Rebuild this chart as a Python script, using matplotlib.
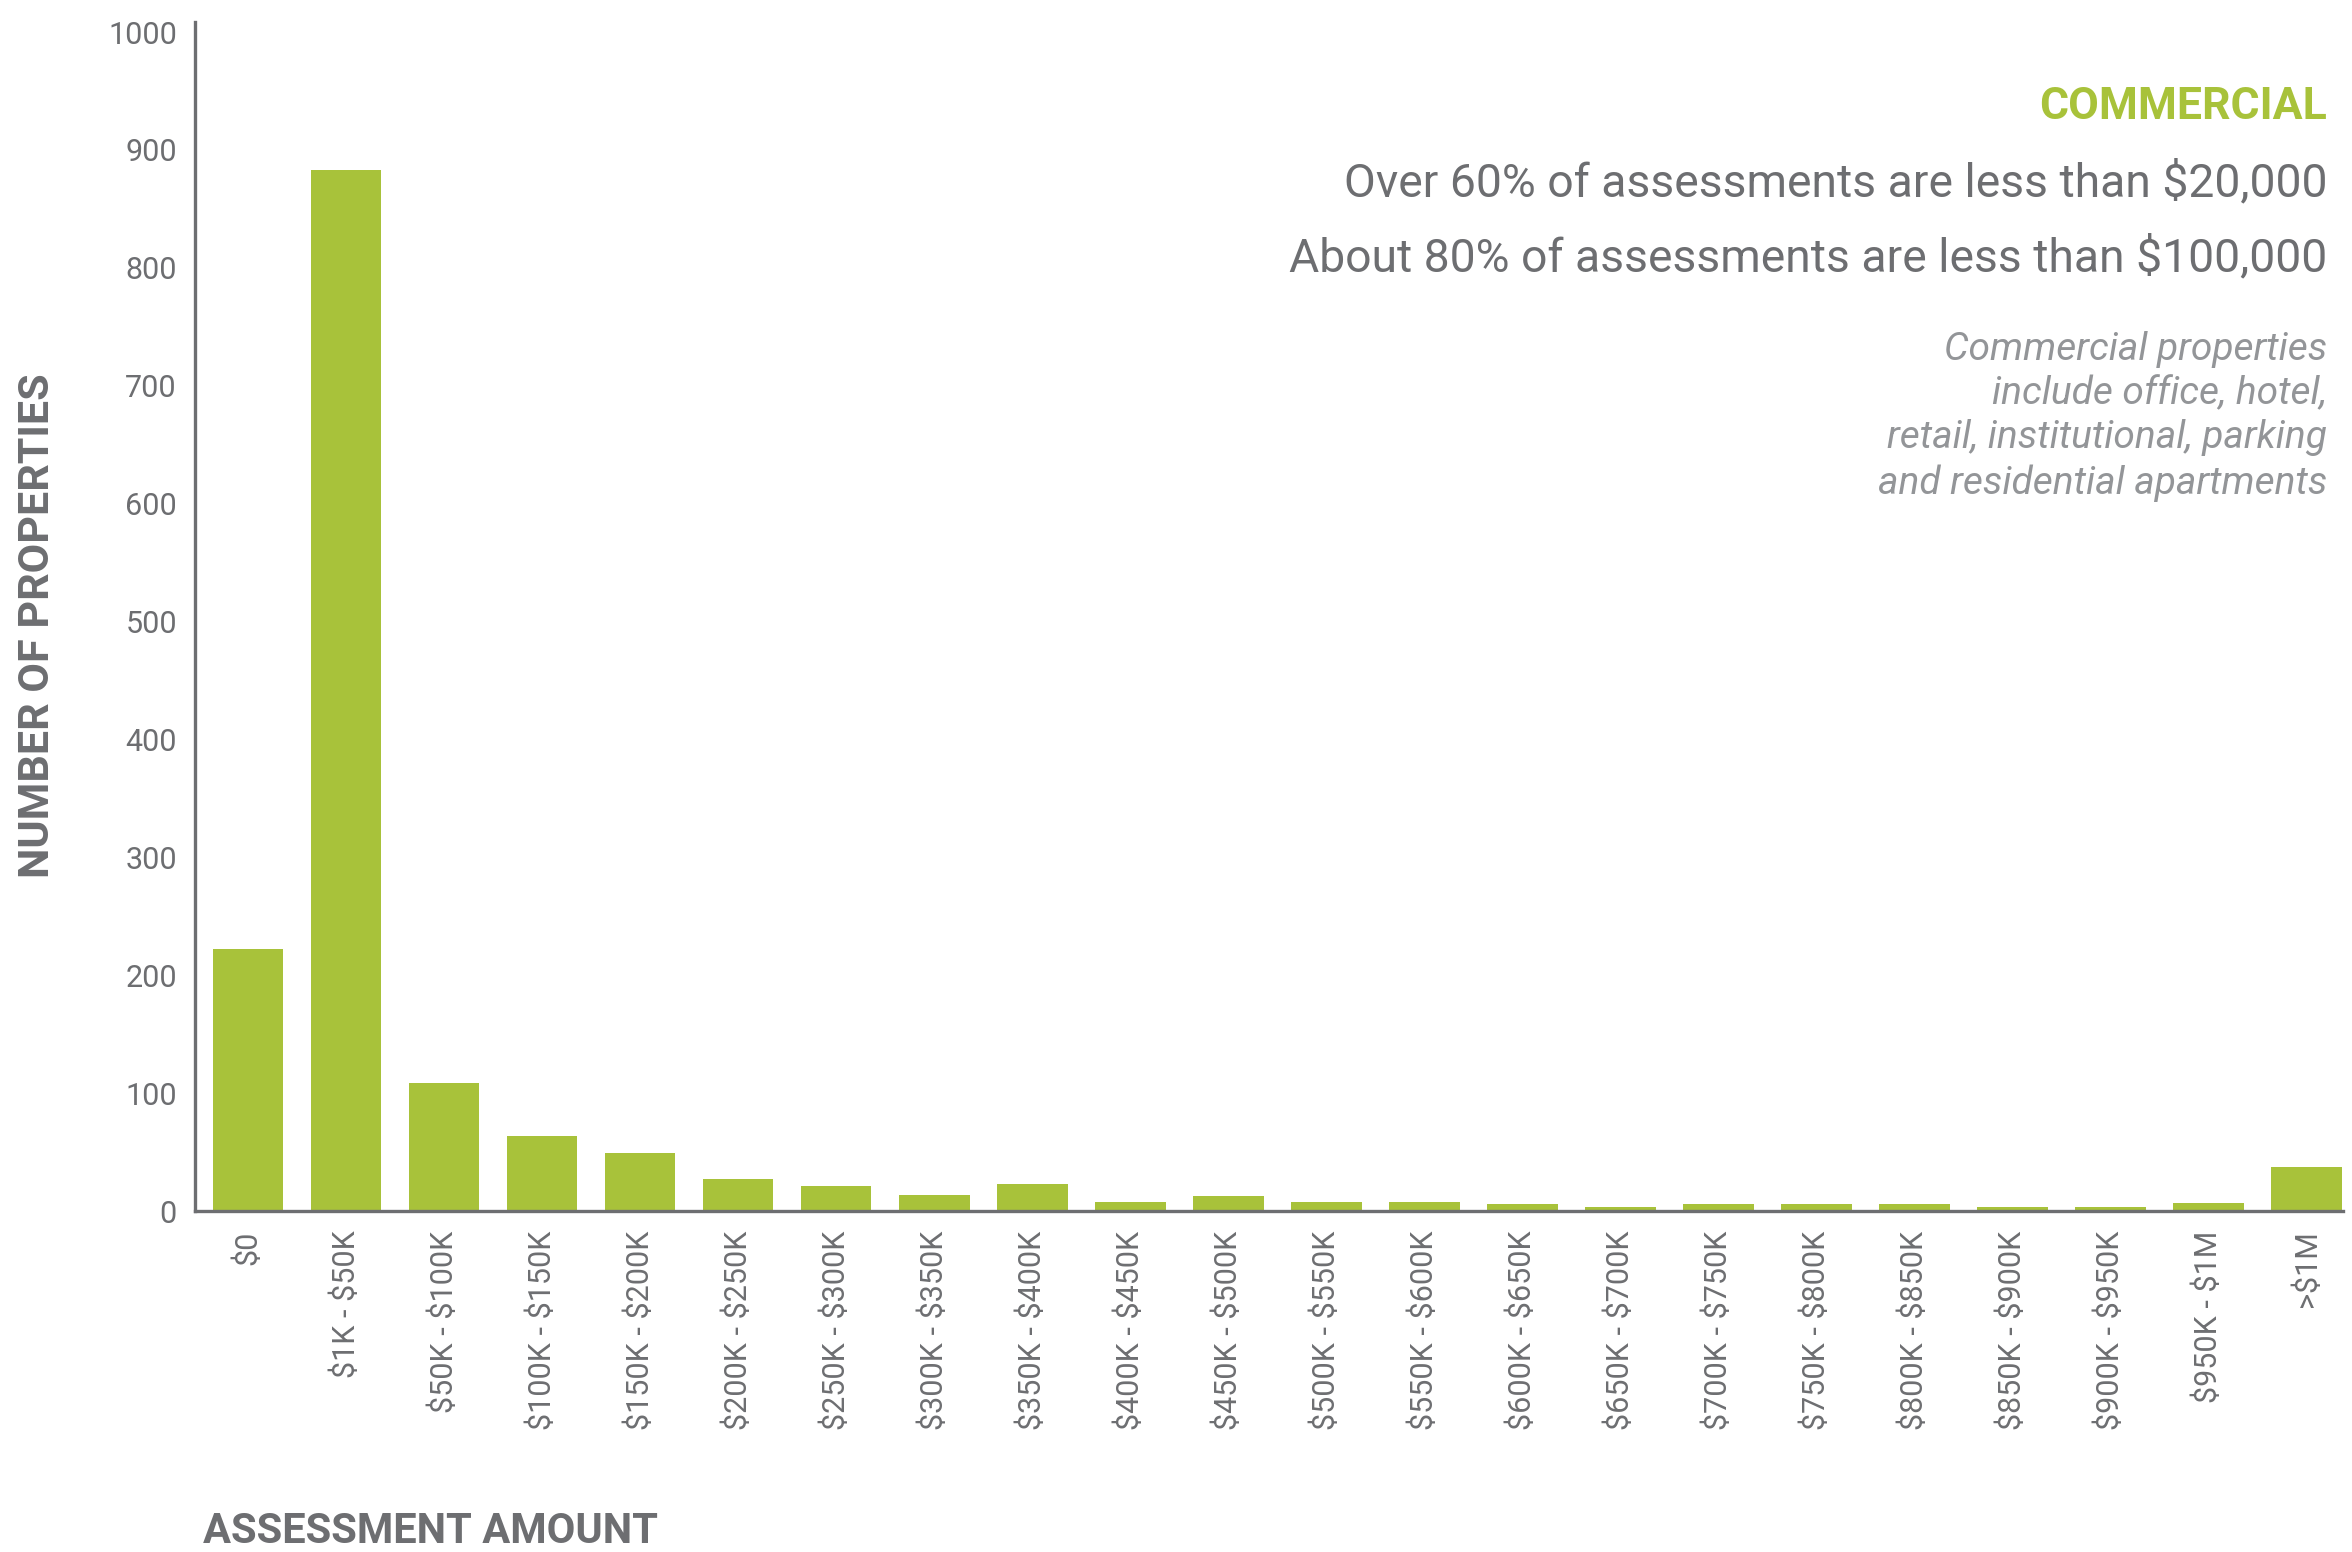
import matplotlib
matplotlib.use('Agg')
import matplotlib.pyplot as plt

# Commercial property assessments by range
categories = ['$0', '$1K - $50K', '$50K - $100K', '$100K - $150K', '$150K - $200K',
              '$200K - $250K', '$250K - $300K', '$300K - $350K', '$350K - $400K',
              '$400K - $450K', '$450K - $500K', '$500K - $550K', '$550K - $600K',
              '$600K - $650K', '$650K - $700K', '$700K - $750K', '$750K - $800K',
              '$800K - $850K', '$850K - $900K', '$900K - $950K', '$950K - $1M', '>$1M']
counts = [222, 883, 109, 64, 49, 27, 21, 14, 23, 8, 13, 8, 8, 6, 3, 6, 6, 6, 3, 3, 7, 37]
y_ticks = [0, 100, 200, 300, 400, 500, 600, 700, 800, 900, 1000]

green = '#a8c23a'
gray = '#6d6e71'
light_gray = '#939598'

plt.rcParams['font.family'] = ['Roboto', 'DejaVu Sans']

fig = plt.figure(figsize=(23.52, 15.52), dpi=100)
ax = fig.add_axes([0.0829, 0.2197, 0.9133, 0.7661])

x = range(len(categories))
ax.bar(x, counts, width=0.72, color=green)

ax.set_xlim(-0.54, 21.37)
ax.set_ylim(0, 1008.5)
ax.set_yticks(y_ticks)
ax.set_xticks(list(x))
# escape dollar signs so they are not read as mathtext
ax.set_xticklabels([c.replace('$', r'\$') for c in categories],
                   rotation=90, va='top', ha='center')
ax.tick_params(axis='both', length=0, labelsize=22, labelcolor=gray)
ax.tick_params(axis='y', pad=13)
ax.tick_params(axis='x', pad=14)

for side in ['top', 'right']:
    ax.spines[side].set_visible(False)
for side in ['left', 'bottom']:
    ax.spines[side].set_color(gray)
    ax.spines[side].set_linewidth(2.4)

fig.text(0.016, 0.597, 'NUMBER OF PROPERTIES', rotation=90, ha='center', va='center',
         fontsize=31, fontweight='bold', color=gray)
fig.text(0.0861, 0.0135, 'ASSESSMENT AMOUNT', ha='left', va='center',
         fontsize=30, fontweight='bold', color=gray)

xr = 2327 / 2352
fig.text(xr, 1 - 107 / 1552, 'COMMERCIAL', ha='right', va='center',
         fontsize=32, fontweight='bold', color=green)
fig.text(xr, 1 - 183 / 1552, r'Over 60% of assessments are less than \$20,000',
         ha='right', va='center', fontsize=33.3, color=gray)
fig.text(xr, 1 - 258 / 1552, r'About 80% of assessments are less than \$100,000',
         ha='right', va='center', fontsize=33.3, color=gray)

note_lines = ['Commercial properties', 'include office, hotel,',
              'retail, institutional, parking', 'and residential apartments']
note_y = [350, 394, 438, 483]
for line, yp in zip(note_lines, note_y):
    fig.text(xr, 1 - yp / 1552, line, ha='right', va='center', fontsize=28,
             fontstyle='italic', color=light_gray)

fig.savefig('out.png', dpi=100)
